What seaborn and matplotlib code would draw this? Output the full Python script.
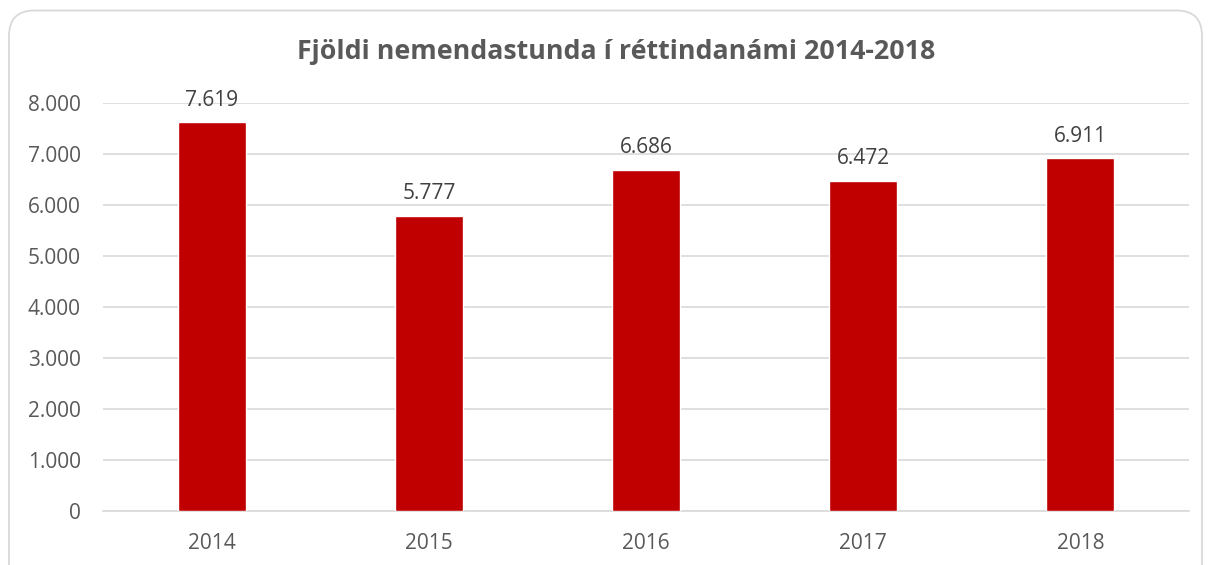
import matplotlib
matplotlib.use("Agg")
import matplotlib.pyplot as plt
import seaborn as sns
import pandas as pd
from matplotlib.patches import FancyBboxPatch
from matplotlib.ticker import FuncFormatter

# Gögn
ar = ["2014", "2015", "2016", "2017", "2018"]
nemendastundir = [7619, 5777, 6686, 6472, 6911]

df = pd.DataFrame({"Ár": ar, "Stundir": nemendastundir})

sns.set_style("white")
plt.rcParams["font.family"] = ["Open Sans", "DejaVu Sans"]

def fmt(v):
    return f"{int(v):,}".replace(",", ".")

fig = plt.figure(figsize=(12.08, 5.65), dpi=100)
ax = fig.add_axes([0.0853, 0.0961, 0.899, 0.722])

# rammi utan um myndina (nær niður fyrir neðri brún)
fig.patches.append(FancyBboxPatch((9 / 1208, -0.05), 1193 / 1208, 1.05 - 10.5 / 565,
                                  boxstyle="round,pad=0,rounding_size=0.021",
                                  transform=fig.transFigure, facecolor="none", edgecolor="#d9d9d9",
                                  linewidth=1.3, mutation_aspect=1208 / 565))

sns.barplot(data=df, x="Ár", y="Stundir", color="#c00000", width=0.313, saturation=1, ax=ax, zorder=3)

ax.set_xlim(-0.5, 4.5)
ax.set_ylim(0, 8000)
ax.set_yticks(range(0, 8001, 1000))
ax.yaxis.set_major_formatter(FuncFormatter(lambda v, p: fmt(v)))
ax.grid(axis="y", color="#d9d9d9", linewidth=1.2, zorder=0)
ax.set_axisbelow(True)
for s in ["top", "right", "left"]:
    ax.spines[s].set_visible(False)
ax.spines["bottom"].set_color("#d9d9d9")
ax.spines["bottom"].set_linewidth(1.2)
ax.tick_params(axis="both", length=0, labelsize=15, labelcolor="#595959")
ax.tick_params(axis="x", pad=16)
ax.tick_params(axis="y", pad=16)
ax.set_xlabel("")
ax.set_ylabel("")

for i, v in enumerate(nemendastundir):
    ax.annotate(fmt(v), (i, v), xytext=(0, 12), textcoords="offset points",
                ha="center", va="baseline", fontsize=15, color="#404040")

fig.text(0.51, 0.908, "Fjöldi nemendastunda í réttindanámi 2014-2018", ha="center", va="center",
         fontsize=19.3, fontweight="bold", color="#595959")

plt.savefig("out.png", dpi=100)
